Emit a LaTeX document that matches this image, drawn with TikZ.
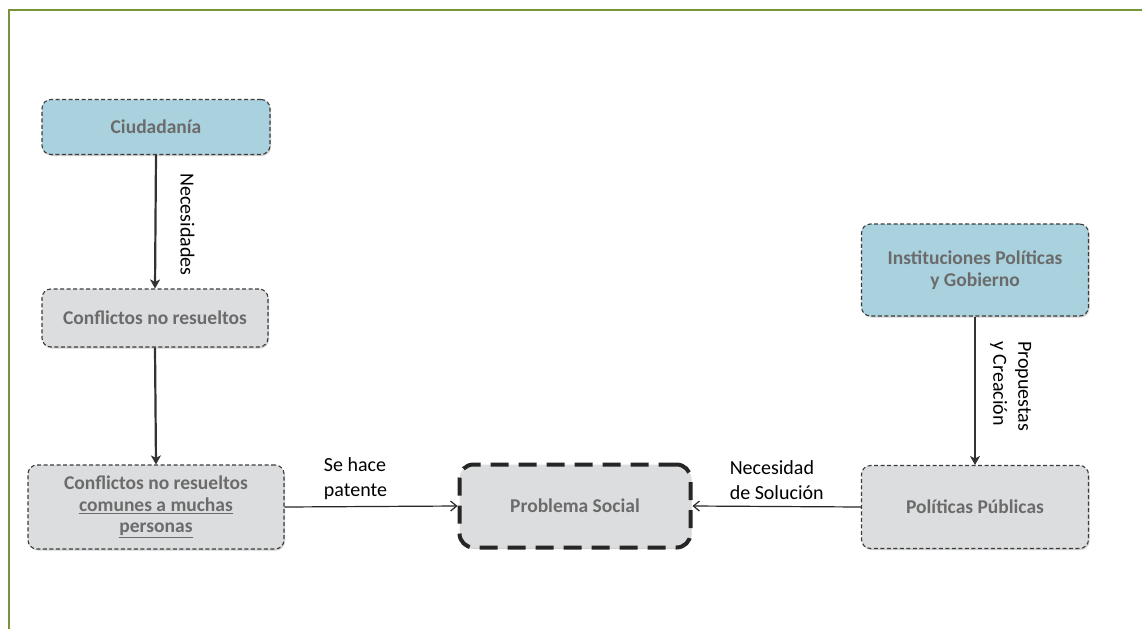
\documentclass[tikz,border=0pt]{standalone}
\usepackage{fontspec}
\setmainfont{Carlito}
\usetikzlibrary{arrows.meta,shadows}
\definecolor{frameg}{HTML}{77933C}
\definecolor{bluef}{HTML}{A9D1DE}
\definecolor{greyf}{HTML}{DCDDDF}
\definecolor{txtg}{HTML}{6B6B6B}
\definecolor{edgeg}{HTML}{3C3C3C}
\tikzset{
  box/.style={draw=edgeg, dashed, line width=1.1pt, dash pattern=on 4pt off 2.5pt,
    rounded corners=9pt, text=txtg, font=\fontsize{19.5}{21.5}\selectfont\bfseries,
    align=center, inner sep=0pt,
    drop shadow={opacity=0.35, shadow xshift=1pt, shadow yshift=-1.5pt}},
  bluebox/.style={box, fill=bluef},
  greybox/.style={box, fill=greyf},
  bigbox/.style={box, fill=greyf, draw=black!85, line width=4pt, dash pattern=on 18pt off 10pt, rounded corners=14pt},
  thickarr/.style={draw=black!80, line width=2.2pt, -{Stealth[length=9pt,width=10pt,inset=2.5pt]}},
  thinarr/.style={draw=black!85, line width=1.2pt, -{Straight Barb[length=6pt,width=10pt]}},
  lbl/.style={font=\fontsize{20}{25}\selectfont, text=black, align=left, inner sep=0pt}
}
\begin{document}
\begin{tikzpicture}[x=1pt,y=-1pt]
\useasboundingbox (0,0) rectangle (1142,629);
\fill[white] (0,0) rectangle (1142,629);
\draw[frameg, line width=2pt] (9,629) -- (9,10) -- (1142,10);

\node[bluebox, minimum width=228pt, minimum height=55pt] (ciu) at (156,127) {Ciudadanía};
\node[greybox, minimum width=226pt, minimum height=58pt] (conf) at (155,318) {Conflictos no resueltos};
\node[greybox, minimum width=256pt, minimum height=84pt] (comun) at (156,507)
  {Conflictos no resueltos\\\underline{comunes a muchas}\\\underline{personas}};
\node[bigbox, minimum width=231pt, minimum height=83pt] (prob) at (575,506) {Problema Social};
\node[greybox, minimum width=227pt, minimum height=83pt] (pol) at (975,507) {Políticas Públicas};
\node[bluebox, minimum width=227pt, minimum height=92pt] (inst) at (975,270) {Instituciones Políticas\\y Gobierno};

\draw[thickarr] (ciu.south) -- (conf.north)
  node[pos=0.52, right=24pt, lbl, rotate=-90, anchor=south] (nec) {Necesidades};
\draw[thickarr] (inst.south) -- (pol.north)
  node[pos=0.47, right=14pt, lbl, rotate=-90, anchor=south, align=left] (prop) {Propuestas\\y Creación};
\draw[thickarr] (conf.south) -- (comun.north);
\draw[thinarr] (comun.east) -- (prob.west)
  node[pos=0.41, above=6pt, lbl] (se) {Se hace\\patente};
\draw[thinarr] (pol.west) -- (prob.east)
  node[pos=0.5, above=6pt, lbl] (ns) {Necesidad\\de Solución};
\end{tikzpicture}
\end{document}
